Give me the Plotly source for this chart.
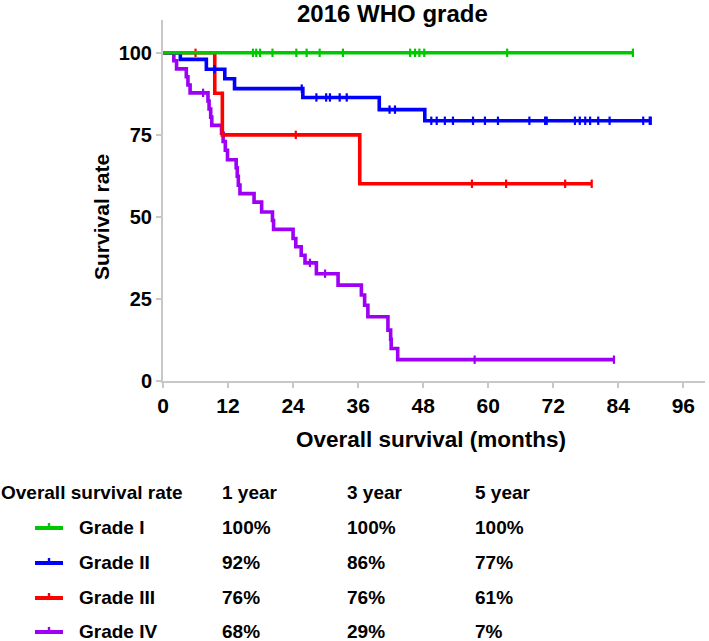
import plotly.graph_objects as go

# ---------------- data ----------------
grade_names = ["Grade I", "Grade II", "Grade III", "Grade IV"]
grade_colors = ["#00c800", "#0000ff", "#ff0000", "#9d00f5"]

g1_times = [0]
g1_surv = [100]
g1_end = 86.7
g1_censor = [16.6, 17.2, 17.9, 20.2, 24.6, 26.5, 28.9, 33.2, 45.6, 46.5, 47.3, 48.2, 63.5, 86.7]

g2_times = [0, 3.2, 8.0, 11.4, 13.2, 25.8, 39.9, 48.3]
g2_surv = [100, 98.0, 95.0, 92.1, 89.1, 86.4, 82.7, 79.3]
g2_end = 90.0
g2_censor = [9.5, 25.6, 28.3, 30.1, 30.8, 32.6, 33.9, 41.8, 42.8, 49.5, 50.5, 52.0, 53.5,
             57.2, 59.4, 61.8, 67.6, 70.5, 70.8, 76.0, 76.9, 77.9, 78.8, 80.3, 82.4, 88.6, 89.8, 90.0]

g3_times = [0, 9.55, 10.95, 36.3]
g3_surv = [100, 87.7, 75.0, 60.1]
g3_end = 79.1
g3_censor = [6.0, 24.5, 57.0, 63.3, 74.2, 79.1]

g4_times = [0, 2.0, 2.5, 4.3, 4.6, 5.0, 8.3, 8.5, 8.8, 9.0, 10.8, 11.1, 11.5, 11.9,
            13.5, 13.7, 13.9, 14.2, 16.8, 18.2, 20.2, 20.4, 24.0, 24.5, 25.5, 26.2,
            28.3, 32.3, 36.6, 37.2, 37.8, 41.5, 42.0, 42.1, 43.3]
g4_surv = [100, 97.6, 95.1, 92.7, 90.2, 87.8, 85.3, 82.9, 80.4, 77.9, 75.5, 73.0, 70.3, 67.4,
           65.0, 62.4, 59.7, 57.1, 54.5, 51.5, 48.9, 46.2, 43.4, 40.9, 38.3, 36.0,
           32.7, 29.2, 26.2, 23.1, 19.6, 15.5, 12.7, 9.9, 6.5]
g4_end = 83.2
g4_censor = [7.4, 27.1, 29.9, 57.5, 83.2]

x_ticks = [0, 12, 24, 36, 48, 60, 72, 84, 96]
y_ticks = [0, 25, 50, 75, 100]

table_header = "Overall survival rate"
table_years = ["1 year", "3 year", "5 year"]
rate_1y = ["100%", "92%", "76%", "68%"]
rate_3y = ["100%", "86%", "76%", "29%"]
rate_5y = ["100%", "77%", "61%", "7%"]

# ---------------- figure ----------------
W, H = 709, 641
L, R, T, B = 163, 4, 20, 260
PW, PH = W - L - R, H - T - B


def px_x(p):
    return (p - L) / PW


def px_y(p):
    return (H - B - p) / PH


def surv_at(times, surv, t):
    v = surv[0]
    for tt, ss in zip(times, surv):
        if tt <= t:
            v = ss
    return v


FONT = "Liberation Sans, Arial, sans-serif"
groups = [
    (g1_times, g1_surv, g1_end, g1_censor),
    (g2_times, g2_surv, g2_end, g2_censor),
    (g3_times, g3_surv, g3_end, g3_censor),
    (g4_times, g4_surv, g4_end, g4_censor),
]

fig = go.Figure()
for idx in [3, 2, 1, 0]:
    times, surv, end, cens = groups[idx]
    xs = list(times) + [end]
    ys = list(surv) + [surv[-1]]
    col = grade_colors[idx]
    fig.add_trace(go.Scatter(x=xs, y=ys, mode="lines", line=dict(color=col, width=3.6, shape="hv"),
                             showlegend=False, hoverinfo="skip"))
    fig.add_trace(go.Scatter(x=cens, y=[surv_at(times, surv, c) for c in cens], mode="markers",
                             marker=dict(symbol="line-ns", size=6, line=dict(color=col, width=2.2)),
                             showlegend=False, hoverinfo="skip"))

axis_common = dict(showline=True, linecolor="#c8c8c8", linewidth=2, ticks="outside", ticklen=5,
                   tickwidth=2, tickcolor="#c8c8c8", showgrid=False, zeroline=False)

fig.update_layout(
    width=W, height=H,
    margin=dict(l=L, r=R, t=T, b=B),
    paper_bgcolor="white", plot_bgcolor="white",
    xaxis=dict(range=[0, 100], tickvals=x_ticks, ticktext=[str(v) for v in x_ticks],
               tickfont=dict(family=FONT, size=21, color="black", weight="bold"), **axis_common),
    yaxis=dict(range=[0, 110], tickvals=y_ticks, ticktext=[str(v) for v in y_ticks],
               tickfont=dict(family=FONT, size=20, color="black", weight="bold"), **axis_common),
)

annots = []


def add_text(text, x, y, size, xanchor="left", angle=0):
    annots.append(dict(text=text, x=px_x(x), y=px_y(y), xref="paper", yref="paper",
                       xanchor=xanchor, yanchor="middle", showarrow=False, textangle=angle,
                       font=dict(family=FONT, size=size, color="black", weight="bold")))


add_text("2016 WHO grade", 392, 14, 24, xanchor="center")
add_text("Survival rate", 101, 217, 21, xanchor="center", angle=-90)
add_text("Overall survival (months)", 431, 439, 22.5, xanchor="center")

row_y = [527, 562, 597, 631]
col_x = [220, 345, 473]
add_text(table_header, -1, 492, 19)
for cx, yr in zip(col_x, table_years):
    add_text(yr, cx, 492, 19)
shapes = []
for i, name in enumerate(grade_names):
    ry = row_y[i]
    add_text(name, 77, ry, 19)
    for cx, vals in zip(col_x, [rate_1y, rate_3y, rate_5y]):
        add_text(vals[i], cx, ry, 19)
    col = grade_colors[i]
    shapes.append(dict(type="line", xref="paper", yref="paper", x0=px_x(35), x1=px_x(63),
                       y0=px_y(ry + 1), y1=px_y(ry + 1), line=dict(color=col, width=4)))
    shapes.append(dict(type="line", xref="paper", yref="paper", x0=px_x(49), x1=px_x(49),
                       y0=px_y(ry + 1), y1=px_y(ry - 4), line=dict(color=col, width=2.4)))

fig.update_layout(annotations=annots, shapes=shapes)
fig.write_html("out.html", config={"displayModeBar": False},
               post_script="document.body.style.margin='0';document.body.style.overflow='hidden';")
